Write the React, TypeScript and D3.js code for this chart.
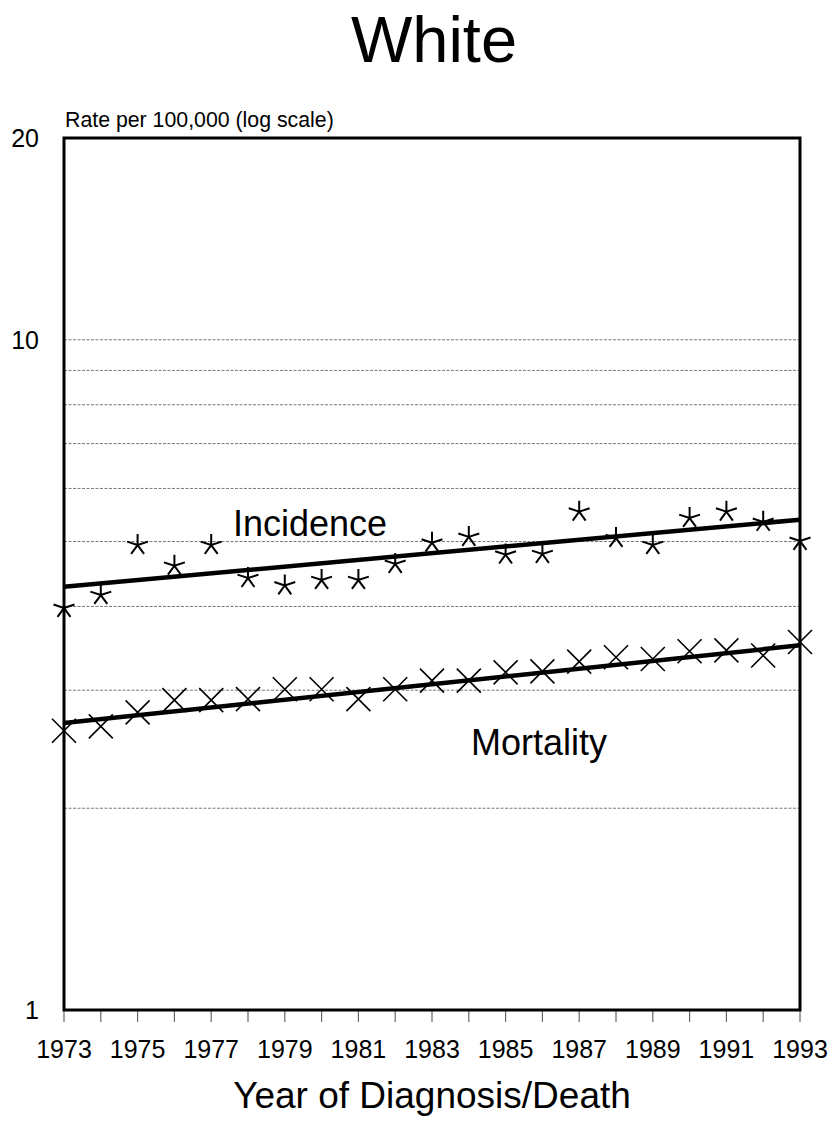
import React from "react";
import * as d3 from "d3";

const years = d3.range(1973, 1994);
const incidence = [3.98, 4.16, 4.94, 4.6, 4.94, 4.41, 4.3, 4.38, 4.38, 4.63, 4.98, 5.08, 4.78, 4.79, 5.54, 5.06, 4.94, 5.42, 5.54, 5.35, 5.01];
const mortality = [2.61, 2.65, 2.78, 2.9, 2.9, 2.91, 3.01, 3.01, 2.91, 3.01, 3.1, 3.1, 3.19, 3.2, 3.31, 3.36, 3.34, 3.43, 3.44, 3.38, 3.54];
const incidenceTrend = [4.28, 5.39];
const mortalityTrend = [2.68, 3.5];
const trendYears = [1973, 1993];
const yTickLabels = [1, 10, 20];
const gridValues = [2, 3, 4, 5, 6, 7, 8, 9, 10];
const xTickLabels = d3.range(1973, 1994, 2);

export default function App() {
  const W = 837, H = 1128;
  const left = 64, right = 800, top = 138, bottom = 1010;
  const x = d3.scaleLinear().domain([1973, 1993]).range([left, right]);
  const y = d3.scaleLog().domain([1, 20]).range([bottom, top]);

  const starPath = (cx: number, cy: number, r: number) => {
    let d = "";
    for (let i = 0; i < 5; i++) {
      const a = (-90 + i * 72) * Math.PI / 180;
      d += `M${cx},${cy}L${cx + r * Math.cos(a)},${cy + r * Math.sin(a)}`;
    }
    return d;
  };
  const xPath = (cx: number, cy: number, r: number) =>
    `M${cx - r},${cy - r}L${cx + r},${cy + r}M${cx - r},${cy + r}L${cx + r},${cy - r}`;

  const line = d3.line<[number, number]>().x(d => x(d[0])).y(d => y(d[1]));

  return (
    <svg width={W} height={H} style={{ position: "absolute", left: 0, top: 0, background: "#fff" }} fontFamily="Arial, 'Liberation Sans', sans-serif">
      <text x={434} y={62} fontSize={65} textAnchor="middle">White</text>
      <text x={65} y={127} fontSize={21.3}>Rate per 100,000 (log scale)</text>
      {gridValues.map(v => (
        <line key={v} x1={left} x2={right} y1={y(v)} y2={y(v)} stroke="#555" strokeWidth={0.8} strokeDasharray="3,1.5" />
      ))}
      {yTickLabels.map(v => (
        <text key={v} x={39} y={y(v) + 9} fontSize={25} textAnchor="end">{v}</text>
      ))}
      {years.map(yr => (
        <line key={yr} x1={x(yr)} x2={x(yr)} y1={bottom} y2={bottom + 12} stroke="#666" strokeWidth={1.2} />
      ))}
      {xTickLabels.map(yr => (
        <text key={yr} x={x(yr)} y={1058} fontSize={25} textAnchor="middle">{yr}</text>
      ))}
      <text x={432} y={1108} fontSize={37} textAnchor="middle">Year of Diagnosis/Death</text>
      <rect x={left} y={top} width={right - left} height={bottom - top} fill="none" stroke="#000" strokeWidth={3} />
      <path d={line(trendYears.map((t, i) => [t, incidenceTrend[i]]) as any) || ""} stroke="#000" strokeWidth={4.5} fill="none" />
      <path d={line(trendYears.map((t, i) => [t, mortalityTrend[i]]) as any) || ""} stroke="#000" strokeWidth={4.5} fill="none" />
      {years.map((yr, i) => (
        <path key={"i" + yr} d={starPath(x(yr), y(incidence[i]), 11)} stroke="#000" strokeWidth={2} fill="none" />
      ))}
      {years.map((yr, i) => (
        <path key={"m" + yr} d={xPath(x(yr), y(mortality[i]), 12)} stroke="#000" strokeWidth={1.6} fill="none" />
      ))}
      <text x={310} y={536} fontSize={36} textAnchor="middle">Incidence</text>
      <text x={539} y={755} fontSize={36} textAnchor="middle">Mortality</text>
    </svg>
  );
}
